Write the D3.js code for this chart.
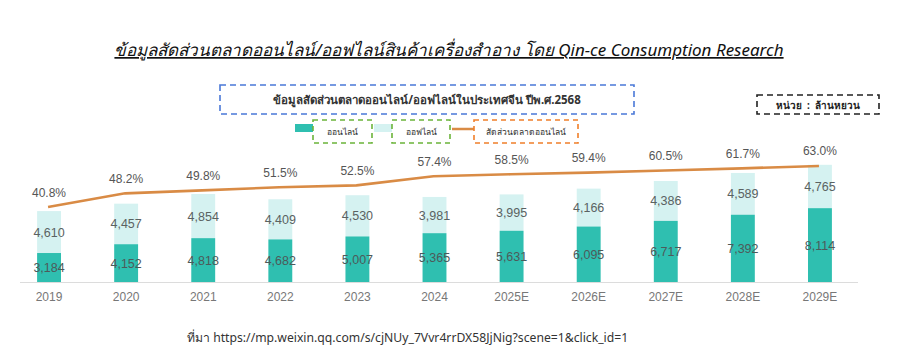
<!DOCTYPE html>
<html><head><meta charset="utf-8">
<script src="https://cdn.jsdelivr.net/npm/d3@7"></script>
<style>
html,body{margin:0;padding:0;background:#fff;}
svg{display:block;font-family:"Noto Sans","DejaVu Sans",sans-serif;}
</style></head>
<body><svg id="c" width="907" height="358"></svg>
<script>
const years = ["2019","2020","2021","2022","2023","2024","2025E","2026E","2027E","2028E","2029E"];
const online = [3184,4152,4818,4682,5007,5365,5631,6095,6717,7392,8114];
const offline = [4610,4457,4854,4409,4530,3981,3995,4166,4386,4589,4765];
const share = [40.8,48.2,49.8,51.5,52.5,57.4,58.5,59.4,60.5,61.7,63.0];
const seriesNames = ["ออนไลน์","ออฟไลน์","สัดส่วนตลาดออนไลน์"];
const titleText = "ข้อมูลสัดส่วนตลาดออนไลน์/ออฟไลน์สินค้าเครื่องสำอาง โดย Qin-ce Consumption Research";
const subTitle = "ข้อมูลสัดส่วนตลาดออนไลน์/ออฟไลน์ในประเทศจีน ปีพ.ศ.2568";
const unitText = "หน่วย  :  ล้านหยวน";
const sourceText = "ที่มา https://mp.weixin.qq.com/s/cjNUy_7Vvr4rrDX58JjNig?scene=1&click_id=1";

const colOnline = "#2fbfb0", colOffline = "#d5f2f1", colLine = "#d98b45";
const svg = d3.select("#c");
const base = 282;
const x = d3.scaleBand().domain(years).range([10.5, 858.5]).paddingInner(0.69).paddingOuter(0.345);
const y = d3.scaleLinear().domain([0, 20000]).range([base, 100]);
const yp = d3.scaleLinear().domain([0, 100]).range([base + 0.5, 97.5]);

// title
svg.append("text").attr("x", 449).attr("y", 56).attr("text-anchor", "middle")
  .attr("font-size", 17).attr("font-style", "italic").attr("fill", "#111")
  .attr("text-decoration", "underline").text(titleText);

// subtitle box
svg.append("rect").attr("x", 220).attr("y", 85).attr("width", 414).attr("height", 29)
  .attr("fill", "none").attr("stroke", "#4a78d8").attr("stroke-width", 1.6).attr("stroke-dasharray", "6,4");
svg.append("text").attr("x", 427).attr("y", 104).attr("text-anchor", "middle")
  .attr("font-size", 11.5).attr("font-weight", "bold").attr("fill", "#333").text(subTitle);

// unit box
svg.append("rect").attr("x", 757).attr("y", 95).attr("width", 122).attr("height", 19)
  .attr("fill", "none").attr("stroke", "#222").attr("stroke-width", 1.6).attr("stroke-dasharray", "6,4");
svg.append("text").attr("x", 818).attr("y", 108.5).attr("text-anchor", "middle").attr("xml:space", "preserve")
  .attr("font-size", 10).attr("font-weight", "bold").attr("fill", "#222").style("white-space", "pre").text(unitText);

// legend
const lg = [
  {sw:"rect", c:colOnline, sx:295, bx:313, bw:59, bc:"#6bb43a", name:seriesNames[0]},
  {sw:"rect", c:colOffline, sx:374, bx:392, bw:58, bc:"#6bb43a", name:seriesNames[1]},
  {sw:"line", c:colLine, sx:452, bx:474, bw:104, bc:"#f07f2a", name:seriesNames[2]}
];
lg.forEach(d => {
  if (d.sw === "rect") svg.append("rect").attr("x", d.sx).attr("y", 124).attr("width", 18).attr("height", 8).attr("fill", d.c);
  else svg.append("line").attr("x1", d.sx).attr("x2", d.sx + 22).attr("y1", 129).attr("y2", 129).attr("stroke", d.c).attr("stroke-width", 2.5);
  svg.append("rect").attr("x", d.bx).attr("y", 120).attr("width", d.bw).attr("height", 23)
    .attr("fill", "none").attr("stroke", d.bc).attr("stroke-width", 1.6).attr("stroke-dasharray", "5,4");
  svg.append("text").attr("x", d.bx + d.bw / 2).attr("y", 134.5).attr("text-anchor", "middle")
    .attr("font-size", 8.5).attr("fill", "#333").text(d.name);
});

// axis line
svg.append("line").attr("x1", 20).attr("x2", 858).attr("y1", base + 0.5).attr("y2", base + 0.5)
  .attr("stroke", "#dcdcdc").attr("stroke-width", 1.2);

// bars
const g = svg.append("g");
years.forEach((yr, i) => {
  const x0 = x(yr), w = x.bandwidth();
  g.append("rect").attr("x", x0).attr("width", w).attr("y", y(online[i] + offline[i]))
    .attr("height", y(online[i]) - y(online[i] + offline[i])).attr("fill", colOffline);
  g.append("rect").attr("x", x0).attr("width", w).attr("y", y(online[i]))
    .attr("height", base - y(online[i])).attr("fill", colOnline);
  const cx = x0 + w / 2;
  g.append("text").attr("x", cx).attr("y", (y(online[i]) + base) / 2 + 4.5).attr("text-anchor", "middle")
    .attr("font-size", 12.5).attr("font-family", "Liberation Sans, Arial, sans-serif").attr("fill", "#4d5a5a")
    .text(d3.format(",")(online[i]));
  g.append("text").attr("x", cx).attr("y", (y(online[i]) + y(online[i] + offline[i])) / 2 + 4.5).attr("text-anchor", "middle")
    .attr("font-size", 12.5).attr("font-family", "Liberation Sans, Arial, sans-serif").attr("fill", "#5a6262")
    .text(d3.format(",")(offline[i]));
});

// x labels
svg.selectAll(".xl").data(years).join("text").attr("class", "xl")
  .attr("x", d => x(d) + x.bandwidth() / 2).attr("y", 301).attr("text-anchor", "middle")
  .attr("font-size", 12).attr("font-family", "Liberation Sans, Arial, sans-serif").attr("fill", "#777").text(d => d);

// line
const line = d3.line().x((d, i) => x(years[i]) + x.bandwidth() / 2 - 1).y(d => yp(d));
svg.append("path").datum(share).attr("d", line).attr("fill", "none")
  .attr("stroke", colLine).attr("stroke-width", 2.6);
svg.selectAll(".pl").data(share).join("text").attr("class", "pl")
  .attr("x", (d, i) => x(years[i]) + x.bandwidth() / 2).attr("y", d => yp(d) - 10.5).attr("text-anchor", "middle")
  .attr("font-size", 12).attr("font-family", "Liberation Sans, Arial, sans-serif").attr("fill", "#555")
  .text(d => d.toFixed(1) + "%");

// source
svg.append("text").attr("x", 187).attr("y", 342).attr("font-size", 12.2).attr("fill", "#333").text(sourceText);
</script></body></html>
